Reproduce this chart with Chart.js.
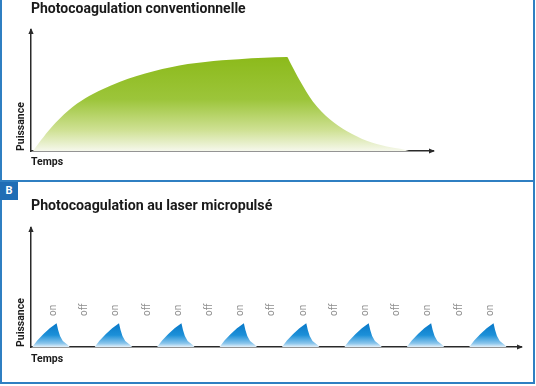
<!DOCTYPE html>
<html><head><meta charset="utf-8">
<script src="https://cdn.jsdelivr.net/npm/chart.js@4/dist/chart.umd.min.js"></script>
<style>
html,body{margin:0;padding:0;background:#fff;width:536px;height:386px;overflow:hidden}
#wrap{position:relative;width:536px;height:386px}
.panel{position:absolute;box-sizing:border-box;border:2px solid #2f7fc2}
#p1{left:0;top:-2px;width:535px;height:184px}
#p2{left:0;top:180px;width:535px;height:204px}
#lblB{position:absolute;left:0;top:182px;width:18px;height:18px;background:#1f6db5;color:#fff;font:bold 11px Roboto,sans-serif;text-align:center;line-height:18px;z-index:3}
canvas{position:absolute;left:0;z-index:2}
#c1{top:0}
#c2{top:180px}
</style></head>
<body><div id="wrap">
<div class="panel" id="p1"></div>
<div class="panel" id="p2"></div>
<canvas id="c1" width="536" height="180"></canvas>
<canvas id="c2" width="536" height="206"></canvas>
<div id="lblB">B</div>
</div>
<script>
// ---- Panel A: conventional photocoagulation (time, power in arbitrary units) ----
const conventionalTime  = [0.5, 2.5, 5.05, 9.3, 13.5, 17.8, 22, 26.3, 30.5, 34.8, 39, 43.3, 47.5, 51.7, 58, 63.7, 64.4, 66.9, 70.1, 74.4, 78.5, 83.5, 88.5, 91.8, 94];
const conventionalPower = [0,   9,   19.5, 33.5, 43.5, 51,   57,   62,   66,   69.2, 71.8, 73.6, 74.9, 75.9, 77,  77.7, 73.5, 58,   41,   26,   16.5, 8.5,  3.8,  1.8,  0];

// ---- Panel B: micropulse laser (8 pulses) ----
const pulseTime = [
  0.2, 1, 2, 3, 4.1, 4.35, 4.65, 5.1, 5.9, 6.2,
  10.2, 11, 12, 13, 14.1, 14.35, 14.65, 15.1, 15.9, 16.2,
  20.2, 21, 22, 23, 24.1, 24.35, 24.65, 25.1, 25.9, 26.2,
  30.2, 31, 32, 33, 34.1, 34.35, 34.65, 35.1, 35.9, 36.2,
  40.2, 41, 42, 43, 44.1, 44.35, 44.65, 45.1, 45.9, 46.2,
  50.2, 51, 52, 53, 54.1, 54.35, 54.65, 55.1, 55.9, 56.2,
  60.2, 61, 62, 63, 64.1, 64.35, 64.65, 65.1, 65.9, 66.2,
  70.2, 71, 72, 73, 74.1, 74.35, 74.65, 75.1, 75.9, 76.2
];
const pulsePower = [
  0, 5.5, 11, 15.8, 20, 14.3, 9.2, 5, 1.7, 0,
  0, 5.5, 11, 15.8, 20, 14.3, 9.2, 5, 1.7, 0,
  0, 5.5, 11, 15.8, 20, 14.3, 9.2, 5, 1.7, 0,
  0, 5.5, 11, 15.8, 20, 14.3, 9.2, 5, 1.7, 0,
  0, 5.5, 11, 15.8, 20, 14.3, 9.2, 5, 1.7, 0,
  0, 5.5, 11, 15.8, 20, 14.3, 9.2, 5, 1.7, 0,
  0, 5.5, 11, 15.8, 20, 14.3, 9.2, 5, 1.7, 0,
  0, 5.5, 11, 15.8, 20, 14.3, 9.2, 5, 1.7, 0
];
const phaseTime  = [3.6, 8.6, 13.6, 18.6, 23.6, 28.6, 33.6, 38.6, 43.6, 48.6, 53.6, 58.6, 63.6, 68.6, 73.6];
const phaseLabel = ['on','off','on','off','on','off','on','off','on','off','on','off','on','off','on'];
const phaseLabelPower = 26;

const titles = ['Photocoagulation conventionnelle', 'Photocoagulation au laser micropulsé'];
const axisX = 'Temps', axisY = 'Puissance';

const FONT = 'Roboto';
const AXIS_COLOR = '#2a2a2a';

const arrowPlugin = {
  id: 'arrows',
  afterDraw(chart) {
    const {ctx, chartArea: a} = chart;
    ctx.save();
    ctx.fillStyle = AXIS_COLOR;
    ctx.beginPath();
    ctx.moveTo(a.left, a.top - 2); ctx.lineTo(a.left - 2.6, a.top + 4); ctx.lineTo(a.left + 2.6, a.top + 4);
    ctx.closePath(); ctx.fill();
    ctx.beginPath();
    ctx.moveTo(a.right + 2, a.bottom); ctx.lineTo(a.right - 4, a.bottom - 2.6); ctx.lineTo(a.right - 4, a.bottom + 2.6);
    ctx.closePath(); ctx.fill();
    ctx.restore();
  }
};

const phasePlugin = {
  id: 'phases',
  afterDatasetsDraw(chart, args, opts) {
    if (!opts.enabled) return;
    const {ctx, scales: {x, y}} = chart;
    ctx.save();
    ctx.fillStyle = '#8e8e8e';
    ctx.font = '10px ' + FONT;
    ctx.textAlign = 'left';
    ctx.textBaseline = 'middle';
    phaseTime.forEach((t, i) => {
      ctx.save();
      ctx.translate(x.getPixelForValue(t), y.getPixelForValue(phaseLabelPower));
      ctx.rotate(-Math.PI / 2);
      ctx.fillText(phaseLabel[i], 0, 0);
      ctx.restore();
    });
    ctx.restore();
  }
};

function gradientFill(stops, fallback, topValue) {
  return (c) => {
    const chart = c.chart;
    if (!chart.chartArea) return fallback;
    const y = chart.scales.y;
    const g = chart.ctx.createLinearGradient(0, y.getPixelForValue(topValue), 0, y.getPixelForValue(0));
    stops.forEach(s => g.addColorStop(s[0], s[1]));
    return g;
  };
}

function makeChart(id, cfg) {
  const axisTitleFont = {family: FONT, size: 10.5, weight: 'bold'};
  return new Chart(document.getElementById(id), {
    type: 'line',
    data: {datasets: [{
      data: cfg.times.map((t, i) => ({x: t, y: cfg.values[i]})),
      fill: 'origin', borderWidth: 0, pointRadius: 0,
      cubicInterpolationMode: cfg.monotone ? 'monotone' : 'default', tension: 0,
      backgroundColor: cfg.fill
    }]},
    options: {
      responsive: false, animation: false, events: [],
      layout: {padding: cfg.padding},
      plugins: {
        legend: {display: false}, tooltip: {enabled: false},
        title: {display: true, text: cfg.title, align: 'start', fullSize: false, color: '#1a1a1a',
          font: {family: FONT, size: cfg.titleSize, weight: 'bold'}, padding: cfg.titlePad},
        phases: {enabled: !!cfg.phases}
      },
      scales: {
        x: {type: 'linear', min: 0, max: cfg.xMax, z: 1,
          ticks: {display: false}, grid: {display: false},
          border: {display: true, color: AXIS_COLOR, width: 1.5},
          title: {display: true, text: axisX, align: 'start', color: '#1a1a1a', font: axisTitleFont, padding: {top: 0, bottom: 0}},
          afterFit(s) { s.height = cfg.xHeight; }},
        y: {type: 'linear', min: 0, max: 100, z: 1,
          ticks: {display: false}, grid: {display: false},
          border: {display: true, color: AXIS_COLOR, width: 1.5},
          title: {display: true, text: axisY, align: 'start', color: '#1a1a1a', font: axisTitleFont, padding: {top: 15, bottom: 0}},
          afterFit(s) { s.width = 31; }}
      }
    },
    plugins: [arrowPlugin, phasePlugin]
  });
}

makeChart('c1', {
  times: conventionalTime, values: conventionalPower, monotone: true, xMax: 100,
  title: titles[0], titleSize: 14, titlePad: {top: 1.5, bottom: 11.7},
  padding: {left: 0, right: 103, top: 0, bottom: 11}, xHeight: 18,
  fill: gradientFill([[0, '#8cba1b'], [0.45, '#9cc53a'], [0.78, '#cfe194'], [1, '#f6f8ec']], '#9cc53a', Math.max(...conventionalPower))
});

makeChart('c2', {
  times: pulseTime, values: pulsePower, monotone: false, xMax: 78.5, phases: true,
  title: titles[1], titleSize: 14.2, titlePad: {top: 18.3, bottom: 12.7},
  padding: {left: 0, right: 15, top: 0, bottom: 20}, xHeight: 19,
  fill: gradientFill([[0, '#0878c8'], [0.5, '#1c90d8'], [0.85, '#8cc6ec'], [1, '#e4f1fa']], '#1c90d8', Math.max(...pulsePower))
});
</script>
</body></html>
